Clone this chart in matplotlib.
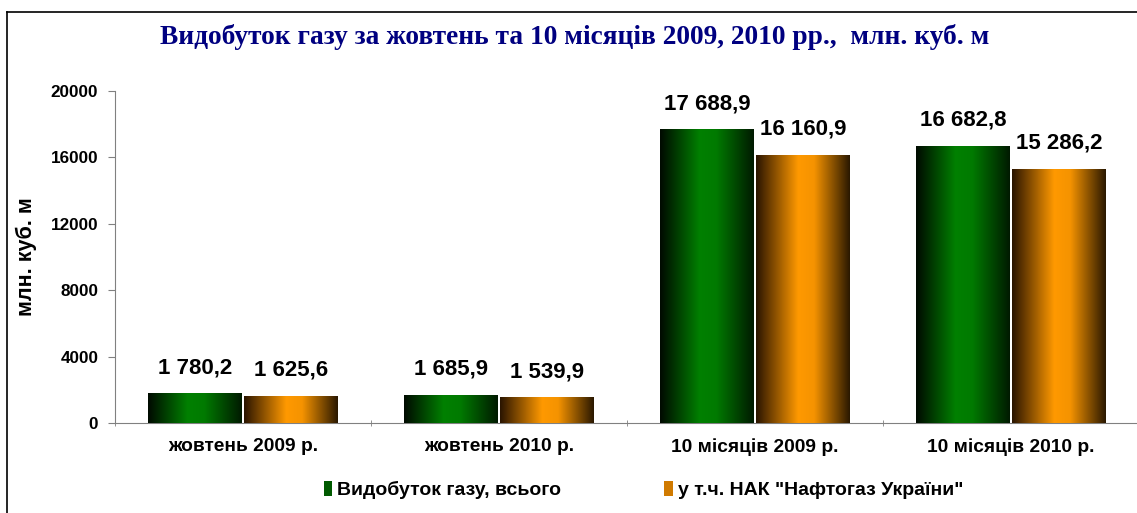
import numpy as np
import matplotlib
matplotlib.use('Agg')
import matplotlib.pyplot as plt
from matplotlib.colors import LinearSegmentedColormap
from matplotlib.lines import Line2D
from matplotlib.patches import Patch

categories = ['жовтень 2009 р.', 'жовтень 2010 р.', '10 місяців 2009 р.', '10 місяців 2010 р.']
total = [1780.2, 1685.9, 17688.9, 16682.8]
naftogaz = [1625.6, 1539.9, 16160.9, 15286.2]
total_labels = ['1 780,2', '1 685,9', '17 688,9', '16 682,8']
naftogaz_labels = ['1 625,6', '1 539,9', '16 160,9', '15 286,2']
series_names = ['Видобуток газу, всього', 'у т.ч. НАК "Нафтогаз України"']
yticks = [0, 4000, 8000, 12000, 16000, 20000]

plt.rcParams['font.family'] = ['Liberation Sans', 'DejaVu Sans']

green_cm = LinearSegmentedColormap.from_list('g', [(0, '#000a00'), (0.42, '#008000'), (0.6, '#007a00'), (1, '#001a00')])
orange_cm = LinearSegmentedColormap.from_list('o', [(0, '#2a1400'), (0.45, '#ff9900'), (0.62, '#f59300'), (1, '#2a1800')])

fig = plt.figure(figsize=(11.37, 5.13), dpi=100)
ax = fig.add_axes([115/1137, 1-423/513, 1024/1137, 332/513])

x = np.arange(len(categories))
w = 0.366
off = 0.188
b1 = ax.bar(x - off, total, w, color='#008000', zorder=2)
b2 = ax.bar(x + off, naftogaz, w, color='#ff9900', zorder=2)

grad = np.linspace(0, 1, 256).reshape(1, -1)
for bars, cm in ((b1, green_cm), (b2, orange_cm)):
    for p in bars:
        im = ax.imshow(grad, extent=[p.get_x(), p.get_x()+p.get_width(), 0, p.get_height()],
                       aspect='auto', cmap=cm, zorder=3)
        im.set_clip_path(p)

for i in range(len(categories)):
    ax.annotate(total_labels[i], (x[i]-off, total[i]), xytext=(0, 11), textcoords='offset points',
                ha='center', va='bottom', fontsize=16, fontweight='bold')
    ax.annotate(naftogaz_labels[i], (x[i]+off, naftogaz[i]), xytext=(0, 11), textcoords='offset points',
                ha='center', va='bottom', fontsize=16, fontweight='bold')

ax.set_xlim(-0.5, 3.5)
ax.set_ylim(0, 20000)
ax.set_yticks(yticks)
ax.set_yticklabels([str(t) for t in yticks], fontsize=12.3, fontweight='bold')
ax.set_xticks(x)
ax.set_xticklabels(categories, fontsize=13.8, fontweight='bold')
ax.set_xticks(np.arange(-0.5, 4, 1), minor=True)
ax.tick_params(axis='x', which='major', length=0, pad=11)
ax.tick_params(axis='x', which='minor', length=5, direction='inout', color='#808080')
ax.tick_params(axis='y', length=5, color='#808080', pad=7)
for s in ('top', 'right'):
    ax.spines[s].set_visible(False)
for s in ('left', 'bottom'):
    ax.spines[s].set_color('#808080')
ax.set_ylabel('млн. куб. м', fontsize=15.5, fontweight='bold', labelpad=10)

fig.text(575/1137, 1-37/513, 'Видобуток газу за жовтень та 10 місяців 2009, 2010 рр.,  млн. куб. м',
         ha='center', va='center', fontsize=19.7, fontweight='bold', color='#000080',
         family='Liberation Serif')

# frame
fig.add_artist(Line2D([7/1137, 7/1137], [0, 1-12/513], color='black', lw=1.2))
fig.add_artist(Line2D([7/1137, 1], [1-12/513, 1-12/513], color='black', lw=1.2))

handles = [Patch(facecolor='#005a00', edgecolor='none'), Patch(facecolor='#d07a00', edgecolor='none')]
fig.legend(handles, series_names, loc='center', bbox_to_anchor=(0.566, 1-490/513), ncol=2,
           frameon=False, prop={'size': 14, 'weight': 'bold'}, handlelength=0.45, handleheight=0.8,
           handletextpad=0.25, columnspacing=5.3)

fig.savefig('out.png', dpi=100)
